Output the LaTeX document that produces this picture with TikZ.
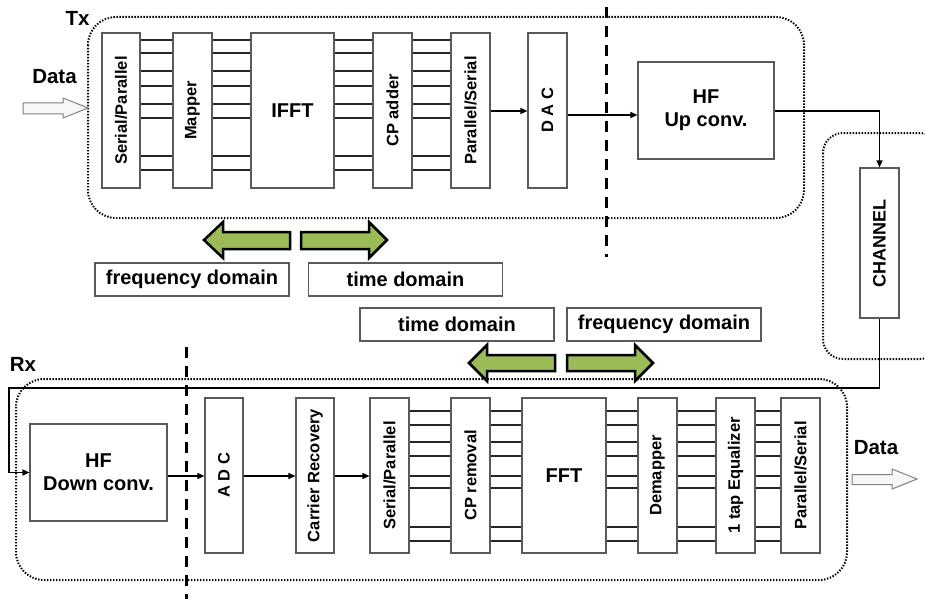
\documentclass[tikz,border=0pt]{standalone}
\usepackage{fontspec}
\setmainfont{Liberation Sans}
\usetikzlibrary{arrows.meta}
\definecolor{ogreen}{RGB}{155,187,89}
\definecolor{bgray}{RGB}{90,90,90}
\begin{document}
\begin{tikzpicture}[x=1pt,y=-1pt,
  blk/.style={draw=bgray, line width=1.1pt, fill=white, inner sep=0pt, font=\bfseries\fontsize{16.5}{19}\selectfont},
  bigblk/.style={blk, font=\bfseries\fontsize{20}{23}\selectfont, align=center},
  lbl/.style={draw=bgray, line width=1.1pt, fill=white, inner sep=0pt, minimum width=194pt, minimum height=33pt, font=\bfseries\fontsize{20}{23}\selectfont},
  ttl/.style={inner sep=0pt, font=\bfseries\fontsize{20.5}{23}\selectfont},
  conn/.style={line width=1.1pt, black!85},
  arr/.style={line width=1.3pt, black, -{Triangle[length=7pt,width=6pt]}},
  dotbox/.style={line width=2pt, dash pattern=on 1.4pt off 1.6pt},
  dashv/.style={line width=3pt, dash pattern=on 11pt off 8pt},
  garrow/.style={fill=ogreen, draw=black, line width=2.5pt, line join=miter},
  darrow/.style={fill=gray!6, draw=gray, line width=1pt, line join=miter}
]
\useasboundingbox (0,0) rectangle (925,599);

% dotted boxes
\draw[dotbox, rounded corners=28pt] (88,17) rectangle (804,218);
\draw[dotbox, rounded corners=28pt] (16,379) rectangle (847,580);
\begin{scope}
  \clip (0,0) rectangle (925,599);
  \draw[dotbox, rounded corners=20pt] (823,133) rectangle (940,359);
\end{scope}

% titles
\node[ttl] (tx) at (77.5,18) {Tx};
\node[ttl] (rx) at (23,364) {Rx};
\node[ttl] (din) at (54.5,77) {Data};
\node[ttl] (dout) at (876,448) {Data};

% dashed separators
\coordinate (d1t) at (606,7);
\coordinate (d1b) at (606,257);
\coordinate (d2t) at (186,347);
\coordinate (d2b) at (186,599);
\draw[dashv] (d1t) -- (d1b);
\draw[dashv] (d2t) -- (d2b);

% Tx blocks
\node[blk, minimum width=38pt, minimum height=155pt] (sp1) at (121,110.5) {\rotatebox{90}{Serial/Parallel}};
\node[blk, minimum width=39pt, minimum height=155pt] (map) at (192.5,110.5) {\rotatebox{90}{Mapper}};
\node[bigblk, minimum width=83pt, minimum height=155pt] (ifft) at (292.5,110.5) {IFFT};
\node[blk, minimum width=39pt, minimum height=155pt] (cpa) at (392.5,110.5) {\rotatebox{90}{CP adder}};
\node[blk, minimum width=39pt, minimum height=155pt] (ps1) at (470.5,110.5) {\rotatebox{90}{Parallel/Serial}};
\node[blk, minimum width=39pt, minimum height=155pt] (dac) at (547.5,110.5) {\rotatebox{90}{D A C}};
\node[bigblk, minimum width=136pt, minimum height=97pt] (hfu) at (706,110.5) {HF\\Up conv.};
\node[blk, minimum width=39pt, minimum height=150pt, font=\bfseries\fontsize{18}{20}\selectfont] (chan) at (879.5,243) {\rotatebox{90}{CHANNEL}};

% Rx blocks
\node[bigblk, minimum width=137pt, minimum height=97pt] (hfd) at (98.5,472.5) {HF\\Down conv.};
\node[blk, minimum width=38pt, minimum height=155pt] (adc) at (224,475.5) {\rotatebox{90}{A D C}};
\node[blk, minimum width=38pt, minimum height=155pt] (cr) at (315,475.5) {\rotatebox{90}{Carrier Recovery}};
\node[blk, minimum width=39pt, minimum height=155pt] (sp2) at (389.5,475.5) {\rotatebox{90}{Serial/Parallel}};
\node[blk, minimum width=39pt, minimum height=155pt] (cpr) at (470.5,475.5) {\rotatebox{90}{CP removal}};
\node[bigblk, minimum width=84pt, minimum height=155pt] (fft) at (564,475.5) {FFT};
\node[blk, minimum width=39pt, minimum height=155pt] (dem) at (657.5,475.5) {\rotatebox{90}{Demapper}};
\node[blk, minimum width=39pt, minimum height=155pt] (eq) at (735.5,475.5) {\rotatebox{90}{1 tap Equalizer}};
\node[blk, minimum width=39pt, minimum height=155pt] (ps2) at (800.5,475.5) {\rotatebox{90}{Parallel/Serial}};

% Tx parallel lines
\foreach \yy in {40,53,71,86,104,118,156,170}{
  \draw[conn] (sp1.east |- 0,\yy) -- (map.west |- 0,\yy);
  \draw[conn] (map.east |- 0,\yy) -- (ifft.west |- 0,\yy);
  \draw[conn] (ifft.east |- 0,\yy) -- (cpa.west |- 0,\yy);
  \draw[conn] (cpa.east |- 0,\yy) -- (ps1.west |- 0,\yy);
}
% Rx parallel lines
\foreach \yy in {411,425,442,456,476,488,527,541}{
  \draw[conn] (sp2.east |- 0,\yy) -- (cpr.west |- 0,\yy);
  \draw[conn] (cpr.east |- 0,\yy) -- (fft.west |- 0,\yy);
  \draw[conn] (fft.east |- 0,\yy) -- (dem.west |- 0,\yy);
  \draw[conn] (dem.east |- 0,\yy) -- (eq.west |- 0,\yy);
  \draw[conn] (eq.east |- 0,\yy) -- (ps2.west |- 0,\yy);
}

% Tx connectors
\draw[arr] (ps1.east |- 0,111) -- (dac.west |- 0,111);
\draw[arr] (dac.east |- 0,115) -- (hfu.west |- 0,115);
\draw[arr] (hfu.east |- 0,111) -| (chan.north);
% channel to Rx
\coordinate (fb) at (9,388);
\draw[arr] (chan.south) |- (fb) |- (hfd.west);
% Rx connectors
\draw[arr] (hfd.east |- 0,476) -- (adc.west |- 0,476);
\draw[arr] (adc.east |- 0,476) -- (cr.west |- 0,476);
\draw[arr] (cr.east |- 0,476) -- (sp2.west |- 0,476);

% data arrows
\draw[darrow] (23,103) -- (63,103) -- (63,98) -- (88,108) -- (63,118) -- (63,114) -- (23,114) -- cycle;
\draw[darrow] (852,474.5) -- (892,474.5) -- (892,469) -- (917,479) -- (892,489) -- (892,484.5) -- (852,484.5) -- cycle;

% domain arrows (Tx)
\draw[garrow] (204,240) -- (223,222) -- (223,232) -- (290,232) -- (290,249) -- (223,249) -- (223,258) -- cycle;
\draw[garrow] (301,232) -- (369,232) -- (369,222) -- (387,240) -- (369,258) -- (369,249) -- (301,249) -- cycle;
% domain arrows (Rx)
\draw[garrow] (469,363) -- (487,345) -- (487,355) -- (555,355) -- (555,371) -- (487,371) -- (487,381) -- cycle;
\draw[garrow] (567,355) -- (635,355) -- (635,345) -- (653,363) -- (635,381) -- (635,371) -- (567,371) -- cycle;

% domain labels
\node[lbl] (fd1) at (192,279.5) {frequency domain};
\node[lbl] (td1) at (405.5,279.5) {time domain};
\node[lbl] (td2) at (457,324.5) {time domain};
\node[lbl] (fd2) at (664,324.5) {frequency domain};
\end{tikzpicture}
\end{document}
